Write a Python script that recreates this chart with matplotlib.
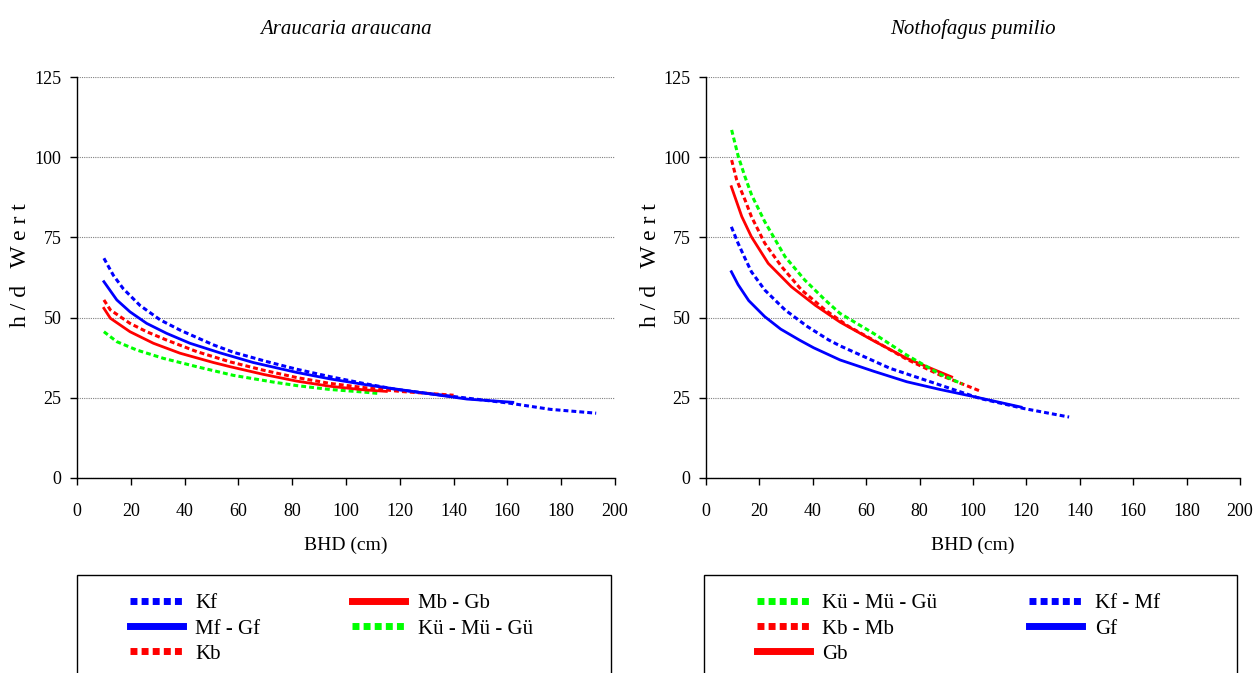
import matplotlib.pyplot as plt
from matplotlib.lines import Line2D
from matplotlib.patches import Rectangle

plt.rcParams['font.family'] = ['Liberation Serif', 'DejaVu Serif']

# --- Araucaria araucana ---
ara_kf_x = [10, 13.5, 17.2, 23.4, 30.9, 38.3, 50.7, 58.1, 70.5, 81.7, 94, 106.4, 118.8, 130, 141, 161, 176, 193]
ara_kf_y = [68.5, 63.2, 59.0, 53.8, 49.3, 46.1, 41.5, 39.2, 36.3, 33.9, 31.6, 29.5, 27.6, 26.4, 25.3, 23.3, 21.4, 20.2]
ara_mfgf_x = [10, 14.8, 19.7, 25.9, 33.3, 42, 53.2, 65.5, 81.7, 94, 106.4, 118.8, 145, 162]
ara_mfgf_y = [61.2, 55.5, 51.8, 48.2, 45.1, 42.0, 39.0, 36.0, 32.9, 30.9, 29.2, 27.7, 24.6, 23.6]
ara_kb_x = [10, 12.4, 19.7, 25.9, 33.3, 44.5, 56.9, 69.3, 81.7, 94, 106.4, 120, 140]
ara_kb_y = [55.5, 52.4, 48.2, 45.6, 43.0, 39.4, 36.2, 33.6, 31.3, 29.5, 28.2, 27.0, 25.8]
ara_mbgb_x = [10, 12.4, 19.7, 28.4, 38.3, 50.7, 56.9, 69.3, 81.7, 94, 106.4, 115]
ara_mbgb_y = [52.9, 49.8, 45.6, 42.0, 38.9, 36.0, 34.7, 32.3, 30.2, 28.6, 27.5, 27.0]
ara_kmg_x = [10, 14.8, 22.2, 32.1, 44.5, 58.1, 73, 81.7, 94, 106.4, 112.6]
ara_kmg_y = [45.6, 42.5, 39.9, 37.3, 34.7, 32.0, 29.9, 28.8, 27.6, 26.8, 26.3]

# --- Nothofagus pumilio ---
not_kmg_x = [9.6, 12.1, 14.6, 17.1, 22, 29.6, 37, 44.6, 50.2, 62.7, 75.2, 87.6, 96]
not_kmg_y = [108.5, 100.2, 93.9, 88.2, 79.9, 69.0, 61.7, 55.5, 51.3, 45.1, 38.3, 32.4, 29.3]
not_kbmb_x = [9.6, 11.5, 14.6, 17, 22, 28.3, 35.8, 44.6, 53.3, 62, 75.2, 87.6, 103]
not_kbmb_y = [99.1, 92.9, 86.7, 81.5, 73.2, 65.9, 58.6, 52.4, 47.3, 43.3, 37.0, 32.1, 27.0]
not_gb_x = [9.5, 13.4, 17, 23.3, 32, 41, 50.2, 62.7, 75.2, 92]
not_gb_y = [90.8, 81.5, 75.2, 66.9, 59.6, 53.8, 48.6, 42.8, 37.3, 31.5]
not_kfmf_x = [9.5, 12, 14.6, 17, 22, 29.6, 38, 46, 50.2, 68.9, 87.6, 102.6, 118.8, 136]
not_kfmf_y = [78.3, 73.2, 68.5, 64.3, 58.6, 52.4, 47.2, 43.0, 41.2, 34.2, 29.0, 24.8, 21.7, 19.0]
not_gf_x = [9.5, 12, 16, 22, 28, 35, 40.3, 50.2, 62.7, 75.2, 87.6, 100.1, 118]
not_gf_y = [64.3, 60.3, 55.3, 50.3, 46.4, 43.0, 40.6, 36.8, 33.3, 30.0, 27.6, 25.4, 22.1]

xticks = [0, 20, 40, 60, 80, 100, 120, 140, 160, 180, 200]
yticks = [0, 25, 50, 75, 100, 125]

BLUE = '#0000ff'
RED = '#ff0000'
GREEN = '#00ff00'
DOT = (0, (1.6, 1.0))

fig = plt.figure(figsize=(12.55, 6.73), dpi=100)
ax1 = fig.add_axes([77 / 1255, 195 / 673, 538 / 1255, 401 / 673])
ax2 = fig.add_axes([706 / 1255, 195 / 673, 534 / 1255, 401 / 673])


def style_axes(ax, title):
    ax.set_xlim(0, 200)
    ax.set_ylim(0, 125)
    ax.set_xticks(xticks)
    ax.set_yticks(yticks)
    ax.spines['top'].set_visible(False)
    ax.spines['right'].set_visible(False)
    ax.spines['left'].set_linewidth(1.0)
    ax.spines['bottom'].set_linewidth(1.0)
    ax.tick_params(direction='out', length=5, width=1, labelsize=13)
    ax.tick_params(axis='x', pad=13)
    ax.tick_params(axis='y', pad=6)
    ax.yaxis.grid(True, linestyle=(0, (1, 1)), color='#808080', linewidth=0.8)
    ax.set_axisbelow(True)
    ax.set_xlabel('BHD (cm)', fontsize=14, labelpad=12)
    ax.set_ylabel('h / d   W e r t', fontsize=17)
    ax.yaxis.set_label_coords(-0.085, 0.53)
    ax.set_title(title, fontsize=15, style='italic', pad=31)


# left panel
ax1.plot(ara_kmg_x, ara_kmg_y, color=GREEN, lw=2.2, linestyle=DOT)
ax1.plot(ara_mbgb_x, ara_mbgb_y, color=RED, lw=2.0)
ax1.plot(ara_kb_x, ara_kb_y, color=RED, lw=2.2, linestyle=DOT)
ax1.plot(ara_mfgf_x, ara_mfgf_y, color=BLUE, lw=2.0)
ax1.plot(ara_kf_x, ara_kf_y, color=BLUE, lw=2.2, linestyle=DOT)
style_axes(ax1, 'Araucaria araucana')

# right panel
ax2.plot(not_gf_x, not_gf_y, color=BLUE, lw=2.0)
ax2.plot(not_kfmf_x, not_kfmf_y, color=BLUE, lw=2.2, linestyle=DOT)
ax2.plot(not_gb_x, not_gb_y, color=RED, lw=2.0)
ax2.plot(not_kbmb_x, not_kbmb_y, color=RED, lw=2.2, linestyle=DOT)
ax2.plot(not_kmg_x, not_kmg_y, color=GREEN, lw=2.2, linestyle=DOT)
style_axes(ax2, 'Nothofagus pumilio')


def handle(color, dotted):
    if dotted:
        return Line2D([], [], color=color, lw=5, linestyle=(0, (1.0, 0.6)))
    return Line2D([], [], color=color, lw=5)


# legend frames (cut off by the bottom of the figure)
fig.add_artist(Rectangle((77 / 1255, -0.05), 534 / 1255, (673 - 575) / 673 + 0.05,
                         transform=fig.transFigure, fill=False, edgecolor='black', lw=1))
fig.add_artist(Rectangle((704 / 1255, -0.05), 533 / 1255, (673 - 575) / 673 + 0.05,
                         transform=fig.transFigure, fill=False, edgecolor='black', lw=1))

left_labels = ['Kf', 'Mf - Gf', 'Kb', 'Mb - Gb', 'Kü - Mü - Gü']
left_handles = [handle(BLUE, True), handle(BLUE, False), handle(RED, True),
                handle(RED, False), handle(GREEN, True)]
fig.legend(left_handles, left_labels, ncol=2, loc='upper left',
           bbox_to_anchor=(111 / 1255, 1 - 575 / 673), frameon=False,
           fontsize=15, handlelength=2.55, handletextpad=0.6,
           columnspacing=4.4, labelspacing=0.27)

right_labels = ['Kü - Mü - Gü', 'Kb - Mb', 'Gb', 'Kf - Mf', 'Gf']
right_handles = [handle(GREEN, True), handle(RED, True), handle(RED, False),
                 handle(BLUE, True), handle(BLUE, False)]
fig.legend(right_handles, right_labels, ncol=2, loc='upper left',
           bbox_to_anchor=(738 / 1255, 1 - 575 / 673), frameon=False,
           fontsize=15, handlelength=2.55, handletextpad=0.6,
           columnspacing=4.4, labelspacing=0.27)

fig.savefig('out.png', dpi=100)
